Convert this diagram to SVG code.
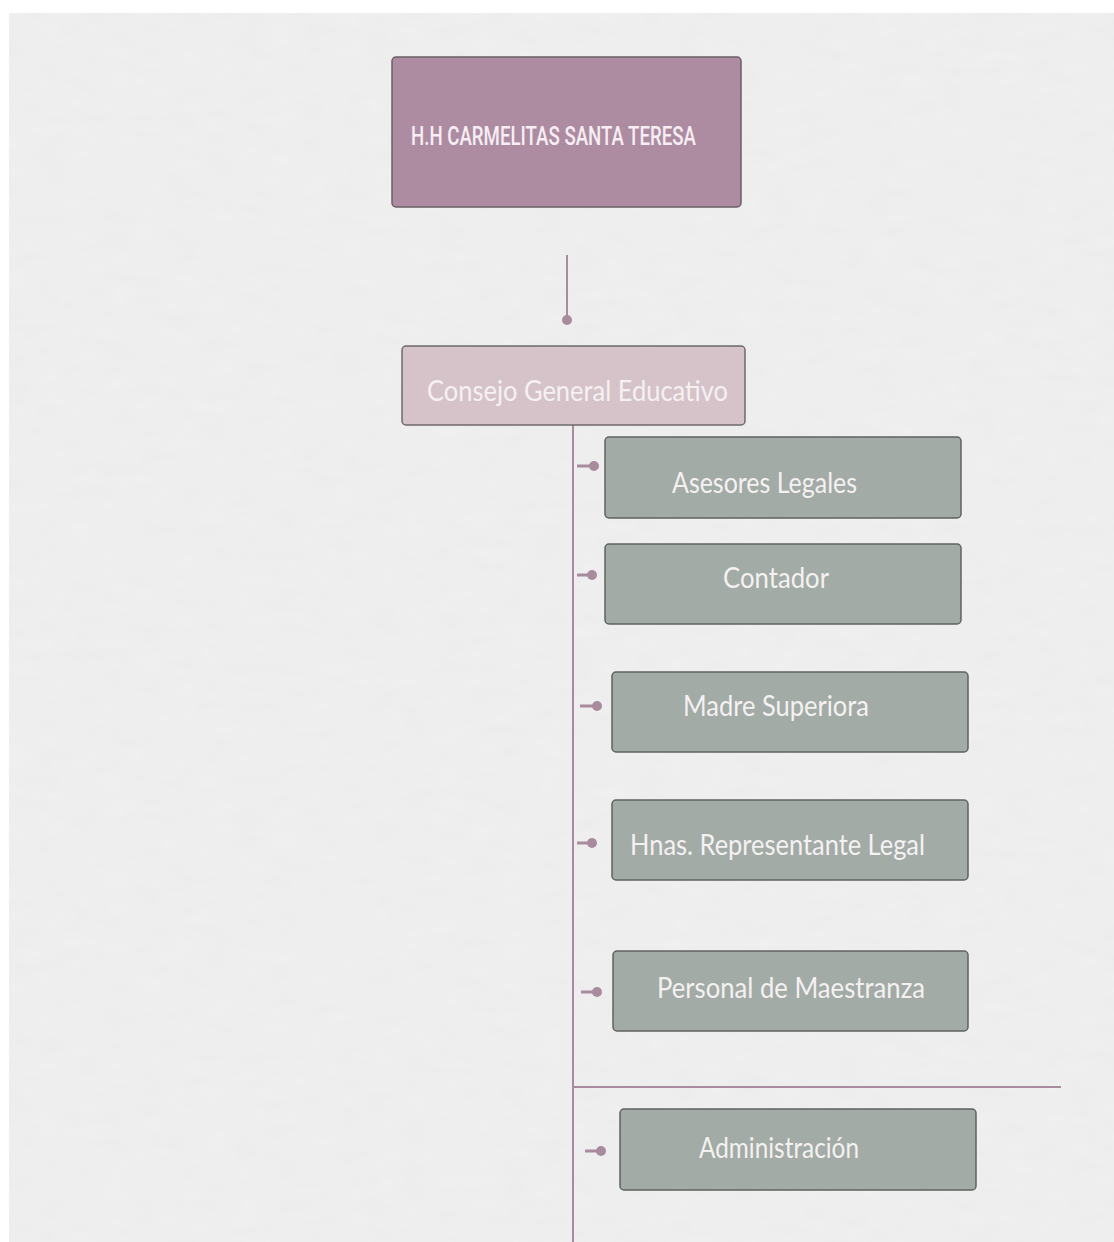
<svg xmlns="http://www.w3.org/2000/svg" width="1114" height="1242" viewBox="0 0 1114 1242">
<defs>
<style>
.bg{fill:#ededed}
.top{fill:#ad8ca2;stroke:#6b5f66;stroke-width:1.5}
.mid{fill:#d5c3c9;stroke:#6f6a6c;stroke-width:1.5}
.sage{fill:#a2aba5;stroke:#5f6361;stroke-width:1.5}
.lbl{font-family:Lato,"Open Sans",sans-serif;font-weight:400;fill:#f5f1f2;font-size:28px}
.ttl{font-family:Roboto,"Liberation Sans",sans-serif;font-weight:500;fill:#f6eef3;font-size:25px}
.ln{stroke:#a98b9e;stroke-width:2;fill:none}
.stub{stroke:#a98b9e;stroke-width:3;fill:none}
.dot{fill:#a98b9e}
</style>
<filter id="tex" x="0" y="0" width="100%" height="100%">
<feTurbulence type="fractalNoise" baseFrequency="0.03 0.08" numOctaves="3" seed="4" result="n"/>
<feColorMatrix type="matrix" values="0 0 0 0 0.9  0 0 0 0 0.9  0 0 0 0 0.9  0 0 0 -1.2 0.9"/>
</filter>
</defs>
<rect x="0" y="0" width="1114" height="1242" fill="#ffffff"/>
<rect class="bg" x="9" y="13" width="1105" height="1229"/>
<rect x="9" y="13" width="1105" height="1229" filter="url(#tex)" opacity="0.5"/>

<g id="connectors">
<line class="ln" x1="567" y1="255" x2="567" y2="318"/>
<circle class="dot" cx="567" cy="320" r="5"/>
<line class="ln" x1="573" y1="425" x2="573" y2="1242"/>
<line class="ln" x1="573" y1="1087" x2="1061" y2="1087"/>
<line class="stub" x1="577" y1="466" x2="593" y2="466"/>
<circle class="dot" cx="594" cy="466" r="5"/>
<line class="stub" x1="577" y1="575" x2="591" y2="575"/>
<circle class="dot" cx="592" cy="575" r="5"/>
<line class="stub" x1="580" y1="706" x2="596" y2="706"/>
<circle class="dot" cx="597" cy="706" r="5"/>
<line class="stub" x1="577" y1="843" x2="591" y2="843"/>
<circle class="dot" cx="592" cy="843" r="5"/>
<line class="stub" x1="581" y1="992" x2="596" y2="992"/>
<circle class="dot" cx="597" cy="992" r="5"/>
<line class="stub" x1="585" y1="1151" x2="600" y2="1151"/>
<circle class="dot" cx="601" cy="1151" r="5"/>
</g>

<g id="node-hh">
<rect class="top" x="392" y="57" width="349" height="150" rx="4"/>
<text class="ttl" x="411" y="145" textLength="285" lengthAdjust="spacingAndGlyphs">H.H CARMELITAS SANTA TERESA</text>
</g>
<g id="node-consejo">
<rect class="mid" x="402" y="346" width="343" height="79" rx="4"/>
<text class="lbl" x="427" y="401" textLength="301" lengthAdjust="spacingAndGlyphs">Consejo General Educativo</text>
</g>
<g id="node-asesores">
<rect class="sage" x="605" y="437" width="356" height="81" rx="4"/>
<text class="lbl" x="672" y="493" textLength="185" lengthAdjust="spacingAndGlyphs">Asesores Legales</text>
</g>
<g id="node-contador">
<rect class="sage" x="605" y="544" width="356" height="80" rx="4"/>
<text class="lbl" x="723" y="588" textLength="106" lengthAdjust="spacingAndGlyphs">Contador</text>
</g>
<g id="node-madre">
<rect class="sage" x="612" y="672" width="356" height="80" rx="4"/>
<text class="lbl" x="683" y="716" textLength="186" lengthAdjust="spacingAndGlyphs">Madre Superiora</text>
</g>
<g id="node-hnas">
<rect class="sage" x="612" y="800" width="356" height="80" rx="4"/>
<text class="lbl" x="630" y="855" textLength="295" lengthAdjust="spacingAndGlyphs">Hnas. Representante Legal</text>
</g>
<g id="node-personal">
<rect class="sage" x="613" y="951" width="355" height="80" rx="4"/>
<text class="lbl" x="657" y="998" textLength="268" lengthAdjust="spacingAndGlyphs">Personal de Maestranza</text>
</g>
<g id="node-admin">
<rect class="sage" x="620" y="1109" width="356" height="81" rx="4"/>
<text class="lbl" x="699" y="1158" textLength="160" lengthAdjust="spacingAndGlyphs">Administración</text>
</g>
</svg>
